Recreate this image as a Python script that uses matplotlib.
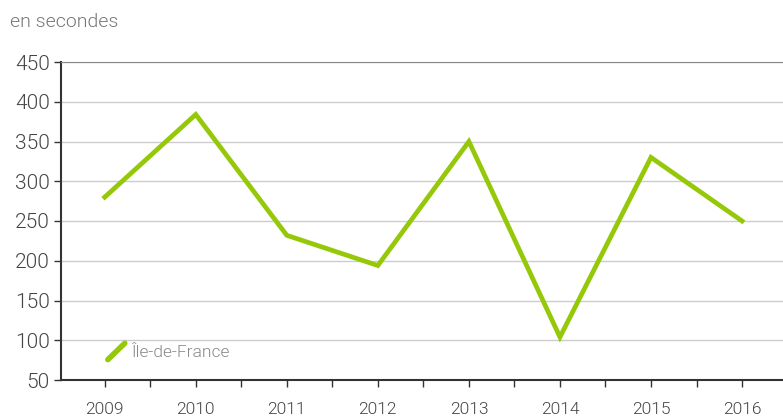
import matplotlib
matplotlib.use("Agg")
import matplotlib.pyplot as plt
from matplotlib.lines import Line2D
from matplotlib.legend_handler import HandlerLine2D

years = ["2009", "2010", "2011", "2012", "2013", "2014", "2015", "2016"]
values = [280, 384, 232, 194, 350, 104, 330, 250]
series_name = "Île-de-France"
y_ticks = [50, 100, 150, 200, 250, 300, 350, 400, 450]

plt.rcParams['font.family'] = ['Roboto', 'DejaVu Sans']
plt.rcParams['font.weight'] = 300

GREEN = "#96c80a"

fig = plt.figure(figsize=(7.83, 4.17), dpi=100)
ax = fig.add_axes([61/783, 1-380/417, 1-61/783, (380-62)/417])

x = list(range(len(years)))
ax.plot(x, values, color=GREEN, lw=3.4, solid_joinstyle='miter', label=series_name, zorder=3)

ax.set_ylim(50, 450)
ax.set_xlim(-0.48, len(years) - 1 + 0.45)
ax.set_yticks(y_ticks)
ax.set_yticklabels([str(v) for v in y_ticks], fontsize=15, color="#444444")
ax.set_xticks(x)
ax.set_xticklabels(years, fontsize=12.5, color="#444444")
ax.set_xticks([i + 0.5 for i in x[:-1]], minor=True)
ax.tick_params(axis='x', which='both', length=5, width=1.0, color="#333333", pad=11)
ax.tick_params(axis='y', length=5, width=1.0, color="#333333", pad=3)

ax.grid(axis='y', color="#cccccc", lw=1.0, zorder=0)
ax.spines['right'].set_visible(False)
ax.spines['top'].set_color("#888888")
ax.spines['left'].set_color("#333333")
ax.spines['bottom'].set_color("#333333")
ax.spines['left'].set_linewidth(1.5)
ax.spines['bottom'].set_linewidth(1.5)

class DiagHandler(HandlerLine2D):
    def create_artists(self, legend, orig_handle, xdescent, ydescent, width, height, fontsize, trans):
        ln = Line2D([width*0.2 - xdescent, width*0.95 - xdescent],
                    [-ydescent - height*0.25, height*1.1 - ydescent],
                    color=GREEN, lw=4, solid_capstyle='round')
        ln.set_transform(trans)
        return [ln]

leg = ax.legend(handler_map={Line2D: DiagHandler()}, loc='lower left',
                bbox_to_anchor=(0.037, 0.015), frameon=False, fontsize=12.5,
                handlelength=1.3, handletextpad=0.3, labelcolor="#888888")

fig.text(10/783, 1-22/417, "en secondes", fontsize=14, color="#777777", va='center', ha='left')

fig.savefig("out.png", dpi=100)
